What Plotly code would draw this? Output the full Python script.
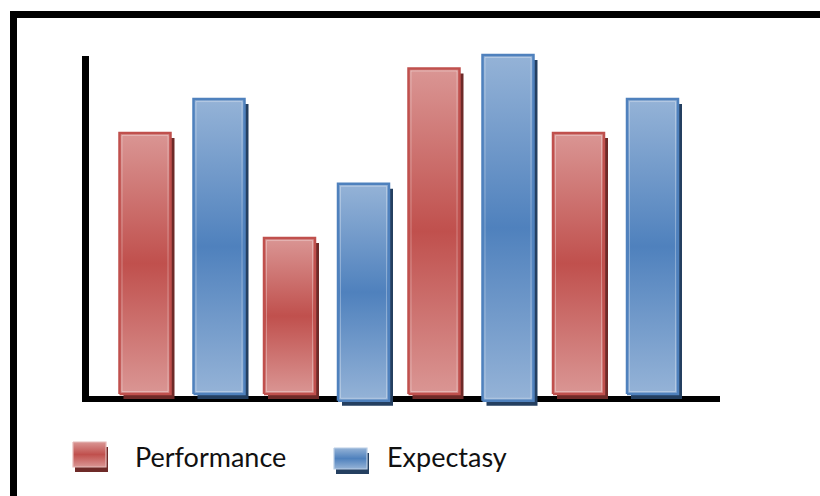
import plotly.graph_objects as go

# Four periods, each with a Performance bar followed by an Expectasy bar
periods = ["Period 1", "Period 2", "Period 3", "Period 4"]
series_names = ["Performance", "Expectasy"]
performance = [77, 46, 96, 77]
expectasy = [87, 62, 100, 87]
performance_base = [0, 0, 0, 0]
expectasy_base = [0, -2, -2, 0]

W, H = 820, 496

# axis scaling: one period step and one value unit in pixels
X_ORIGIN_PX, X_STEP_PX = 182.0, 144.5
Y_ORIGIN_PX, Y_UNIT_PX = 394.0, 3.39


def dx(px):
    return px / X_STEP_PX


def dy(px):
    return px / Y_UNIT_PX


def to_x(px):
    return (px - X_ORIGIN_PX) / X_STEP_PX


def to_y(py):
    return (Y_ORIGIN_PX - py) / Y_UNIT_PX


STYLE = {
    "Performance": dict(light="#DA9694", dark="#C0504D", edge="#C0504D",
                        shadow="#6E2A28", rim="#E6B9B8"),
    "Expectasy": dict(light="#95B3D7", dark="#4F81BD", edge="#4F81BD",
                      shadow="#243F60", rim="#B9CDE5"),
}

BAR_HALF = dx(25.5)
PAIR_OFFSET = dx(37)
SHADOW_DX, SHADOW_DY = dx(4), dy(5)


def rect(x0, x1, y0, y1, fillcolor=None, gradient=None, line_color="rgba(0,0,0,0)",
         line_width=0, fill=True):
    kw = dict(
        x=[x0, x1, x1, x0, x0],
        y=[y0, y0, y1, y1, y0],
        mode="lines",
        line=dict(color=line_color, width=line_width),
        hoverinfo="skip",
        showlegend=False,
    )
    if fill:
        kw["fill"] = "toself"
        if gradient is not None:
            kw["fillgradient"] = gradient
        else:
            kw["fillcolor"] = fillcolor
    return go.Scatter(**kw)


def gradient(st):
    return dict(type="vertical",
                colorscale=[[0, st["light"]], [0.5, st["dark"]], [1, st["light"]]])


fig = go.Figure()

series = [
    ("Performance", performance, performance_base),
    ("Expectasy", expectasy, expectasy_base),
]

for g in range(len(periods)):
    for s, (name, values, bases) in enumerate(series):
        st = STYLE[name]
        xc = g + (2 * s - 1) * PAIR_OFFSET
        x0, x1 = xc - BAR_HALF, xc + BAR_HALF
        y0, y1 = bases[g], values[g]
        # drop shadow
        fig.add_trace(rect(x0 + SHADOW_DX, x1 + SHADOW_DX, y0 - SHADOW_DY, y1 - SHADOW_DY,
                           fillcolor=st["shadow"]))
        # gradient body with border
        fig.add_trace(rect(x0, x1, y0, y1, gradient=gradient(st),
                           line_color=st["edge"], line_width=2.5))
        # soft inner highlight
        fig.add_trace(rect(x0 + dx(2.5), x1 - dx(2.5), y0 + dy(2.5), y1 - dy(2.5),
                           line_color="rgba(255,255,255,0.30)", line_width=1, fill=False))

# legend swatches and labels
legend_items = [
    # name, swatch box (px): left, right, top, bottom, label left px
    ("Performance", 73, 106, 442, 467, 133),
    ("Expectasy", 334, 367, 448, 469, 385),
]
for name, lx0, lx1, ly0, ly1, tx in legend_items:
    st = STYLE[name]
    fig.add_trace(rect(to_x(lx0 + 2), to_x(lx1 + 2), to_y(ly0 + 5), to_y(ly1 + 5),
                       fillcolor=st["shadow"]))
    fig.add_trace(rect(to_x(lx0), to_x(lx1), to_y(ly0), to_y(ly1), gradient=gradient(st),
                       line_color=st["rim"], line_width=1.2))
    fig.add_annotation(
        text=name, xref="paper", yref="paper",
        x=tx / W, y=1 - 456 / H, xanchor="left", yanchor="middle",
        showarrow=False, font=dict(family="Lato, Carlito, sans-serif", size=27, color="#111111"),
    )


def px_rect(x0, x1, y0, y1, layer="below"):
    return dict(type="rect", xref="paper", yref="paper",
                x0=x0 / W, x1=x1 / W, y0=1 - y1 / H, y1=1 - y0 / H,
                fillcolor="black", line=dict(width=0), layer=layer)


shapes = [
    # frame
    px_rect(10, 17, 11, H),
    px_rect(10, W, 11, 18),
    # axes
    px_rect(82, 89, 56, 402),
    px_rect(82, 720, 396, 402),
]

fig.update_layout(
    width=W, height=H, autosize=False,
    margin=dict(l=0, r=0, t=0, b=0),
    paper_bgcolor="white", plot_bgcolor="white",
    showlegend=False,
    shapes=shapes,
    xaxis=dict(range=[to_x(0), to_x(W)], visible=False, fixedrange=True),
    yaxis=dict(range=[to_y(H), to_y(0)], visible=False, fixedrange=True),
)

fig.write_html("out.html")
